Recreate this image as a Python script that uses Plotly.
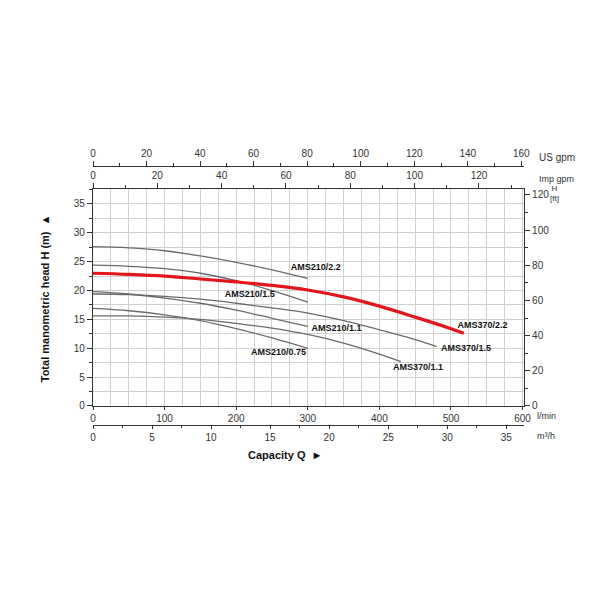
import plotly.graph_objects as go

# pump curves, capacity in l/min, head in m
q_210_22 = [0, 50, 100, 150, 200, 250, 300]
h_210_22 = [27.6, 27.4, 26.9, 26.0, 24.9, 23.6, 22.1]

q_210_15 = [0, 50, 100, 150, 200, 250, 300]
h_210_15 = [24.4, 24.2, 23.8, 23.0, 21.7, 20.0, 18.0]

q_210_11 = [0, 50, 100, 150, 200, 250, 300]
h_210_11 = [19.8, 19.4, 18.7, 17.8, 16.6, 15.2, 13.8]

q_210_075 = [0, 50, 100, 150, 200, 250, 300]
h_210_075 = [16.9, 16.5, 15.8, 14.8, 13.4, 11.8, 10.0]

q_370_15 = [0, 50, 100, 150, 200, 250, 300, 350, 400, 450, 480]
h_370_15 = [19.4, 19.3, 19.0, 18.5, 17.8, 17.0, 16.1, 14.8, 13.2, 11.5, 10.3]

q_370_11 = [0, 50, 100, 150, 200, 250, 300, 350, 400, 430]
h_370_11 = [15.6, 15.6, 15.4, 15.0, 14.3, 13.5, 12.4, 10.9, 9.0, 7.7]

q_370_22 = [0, 50, 100, 150, 200, 250, 300, 350, 400, 450, 500, 518]
h_370_22 = [23.0, 22.8, 22.5, 22.0, 21.5, 20.9, 20.1, 18.9, 17.3, 15.4, 13.4, 12.6]

# curve labels: name, capacity, head
label_names = ["AMS210/2.2", "AMS210/1.5", "AMS210/1.1", "AMS210/0.75",
               "AMS370/2.2", "AMS370/1.5", "AMS370/1.1"]
label_q = [311, 219, 340, 259, 544, 521, 454]
label_h = [23.9, 19.2, 13.3, 9.2, 13.9, 10.0, 6.7]

FONT = "Arial, Liberation Sans, sans-serif"
GRAY = "#6a6a6a"
GRID = "#cfcfcf"
AXIS = "#333333"

fig = go.Figure()

gray_curves = [(q_210_22, h_210_22), (q_210_15, h_210_15), (q_210_11, h_210_11),
               (q_210_075, h_210_075), (q_370_15, h_370_15), (q_370_11, h_370_11)]
for qs, hs in gray_curves:
    fig.add_trace(go.Scatter(x=qs, y=hs, mode="lines", line=dict(color=GRAY, width=1.3, shape="spline"),
                             hoverinfo="skip"))

fig.add_trace(go.Scatter(x=q_370_22, y=h_370_22, mode="lines",
                         line=dict(color="#e3161c", width=3.2, shape="spline"), hoverinfo="skip"))

fig.add_trace(go.Scatter(x=label_q, y=label_h, mode="text", text=[f"<b>{t}</b>" for t in label_names],
                         textfont=dict(family=FONT, size=9, color="#111"), hoverinfo="skip"))

tick_font = dict(family=FONT, size=10, color="#333")

common = dict(showline=True, linecolor=AXIS, linewidth=1.2, ticks="outside",
              tickcolor=AXIS, tickfont=tick_font, zeroline=False)

# page body adds ~8px offset, so margins are shifted to compensate
fig.update_layout(
    width=600, height=600,
    showlegend=False,
    paper_bgcolor="white", plot_bgcolor="white",
    margin=dict(l=85, r=84, t=132, b=158, autoexpand=False),
    xaxis=dict(range=[0, 602], dtick=100, showgrid=True, gridcolor=GRID, gridwidth=1,
               minor=dict(dtick=25, showgrid=True, gridcolor=GRID, ticks=""),
               anchor="y", side="bottom", ticklen=3, **common),
    xaxis2=dict(range=[0, 36.5], dtick=5, showgrid=False, overlaying="x", anchor="free",
                position=0.081, side="bottom", ticklen=3,
                minor=dict(dtick=2.5, ticks="outside", ticklen=2, tickcolor=AXIS), **common),
    xaxis3=dict(range=[0, 134], dtick=20, showgrid=False, overlaying="x", anchor="y", side="top",
                ticklen=5, minor=dict(dtick=10, ticks="outside", ticklen=3, tickcolor=AXIS), **common),
    xaxis4=dict(range=[0, 161], dtick=20, showgrid=False, overlaying="x", anchor="free",
                position=0.916, side="top", ticklen=5,
                minor=dict(dtick=10, ticks="outside", ticklen=3, tickcolor=AXIS), **common),
    yaxis=dict(range=[0, 37.6], dtick=5, domain=[0.142, 0.842], showgrid=True, gridcolor=GRID,
               ticklen=5, minor=dict(dtick=2.5, showgrid=True, gridcolor=GRID, ticks="outside",
                                     ticklen=3, tickcolor=AXIS), **common),
    yaxis2=dict(range=[0, 37.6 * 3.2808], dtick=20, overlaying="y", side="right", anchor="x",
                showgrid=False, ticklen=5,
                minor=dict(dtick=10, ticks="outside", ticklen=3, tickcolor=AXIS), **common),
)

# dummy traces so the extra axes render
fig.add_trace(go.Scatter(x=[0], y=[0], xaxis="x2", mode="markers", marker=dict(opacity=0), hoverinfo="skip"))
fig.add_trace(go.Scatter(x=[0], y=[0], xaxis="x3", mode="markers", marker=dict(opacity=0), hoverinfo="skip"))
fig.add_trace(go.Scatter(x=[0], y=[0], xaxis="x4", mode="markers", marker=dict(opacity=0), hoverinfo="skip"))
fig.add_trace(go.Scatter(x=[0], y=[0], yaxis="y2", mode="markers", marker=dict(opacity=0), hoverinfo="skip"))

small = dict(family=FONT, size=9, color="#333")
annots = [
    dict(text="US gpm", x=1.03, y=0.945, font=dict(family=FONT, size=10, color="#333")),
    dict(text="Imp gpm", x=1.03, y=0.874, font=small),
    dict(text="H<br>[ft]", x=1.055, y=0.829, font=dict(family=FONT, size=8, color="#333")),
    dict(text="l/min", x=1.025, y=0.11, font=small),
    dict(text="m³/h", x=1.025, y=0.045, font=small),
    dict(text="<b>Capacity Q</b>  ►", x=0.445, y=-0.016, xanchor="center",
         font=dict(family=FONT, size=11, color="#111")),
]
for a in annots:
    a.setdefault("xanchor", "left")
    fig.add_annotation(xref="paper", yref="paper", showarrow=False, yanchor="middle", **a)

fig.add_annotation(text="<b>Total manometric head H (m)</b>  ▲", xref="paper", yref="paper",
                   x=-0.111, y=0.49, textangle=-90, showarrow=False,
                   xanchor="center", yanchor="middle", font=dict(family=FONT, size=11, color="#111"))

fig.write_html("out.html")
